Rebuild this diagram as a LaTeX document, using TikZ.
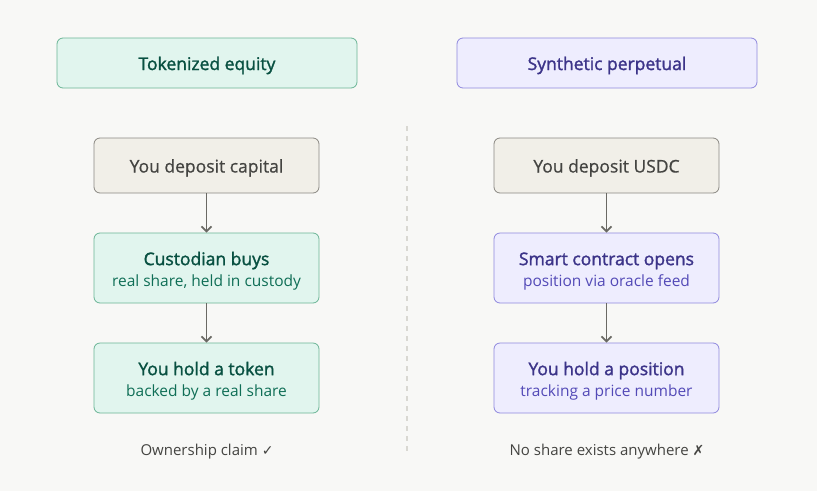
\documentclass[tikz,border=0pt]{standalone}
\usepackage{fontspec}
\setmainfont{Open Sans}
\newfontfamily\medfont{Open Sans}[FakeBold=1.6]
\newfontfamily\semifont{Open Sans}[FakeBold=0.7]
\newfontfamily\symfont{DejaVu Sans}
\usepackage{xcolor}
\usetikzlibrary{arrows.meta,positioning}

\definecolor{pagebg}{HTML}{F8F8F6}
\definecolor{mintfill}{HTML}{E1F5EE}
\definecolor{mintline}{HTML}{6AB596}
\definecolor{mintdark}{HTML}{085041}
\definecolor{mintsub}{HTML}{0F6E56}
\definecolor{lilacfill}{HTML}{EEEDFE}
\definecolor{lilacline}{HTML}{8F88DE}
\definecolor{lilacdark}{HTML}{3C3489}
\definecolor{lilacsub}{HTML}{534AB7}
\definecolor{sandfill}{HTML}{F1EFE8}
\definecolor{sandline}{HTML}{8A8882}
\definecolor{sanddark}{HTML}{444441}
\definecolor{arrowgray}{HTML}{6A6964}
\definecolor{splitgray}{HTML}{D9D8D2}

\tikzset{
  box/.style={rounded corners=6pt,line width=0.8pt,minimum width=225pt,align=center,inner sep=0pt},
  headbox/.style={box,minimum width=300pt,minimum height=50pt,text height=14pt,text depth=0pt,font=\medfont\fontsize{17.5}{20}\selectfont},
  startbox/.style={box,fill=sandfill,draw=sandline,text=sanddark,minimum height=55pt,text height=14pt,text depth=0pt,font=\semifont\fontsize{17.5}{20}\selectfont},
  greenbox/.style={box,fill=mintfill,draw=mintline,text=mintdark,minimum height=70pt,font=\fontsize{15.5}{21}\selectfont},
  purplebox/.style={box,fill=lilacfill,draw=lilacline,text=lilacdark,minimum height=70pt,font=\fontsize{15.5}{21}\selectfont},
  flow/.style={-{Straight Barb[length=5pt,width=10pt]},line width=1.7pt,draw=arrowgray},
  verdict/.style={text=sanddark,font=\fontsize{15}{17}\selectfont}
}
\newcommand{\boxtext}[3]{{\medfont\fontsize{17.5}{21}\selectfont\rule{0pt}{19pt}#2}\\{\color{#1}#3}}

\begin{document}
\begin{tikzpicture}[x=1pt,y=-1pt]
\fill[pagebg] (0,0) rectangle (817,491);
\useasboundingbox (0,0) rectangle (817,491);

% divider
\draw[splitgray,line width=1.5pt,dash pattern=on 5pt off 5pt] (407,126) -- (407,452);

% left column: tokenized equity
\node[headbox,fill=mintfill,draw=mintline,text=mintdark] (teq) at (207,63) {Tokenized equity};
\node[startbox] (tdep) at (206.5,165.5) {You deposit capital};
\node[greenbox] (tbuy) at (206.5,268) {\boxtext{mintsub}{Custodian buys}{real share, held in custody}};
\node[greenbox] (thold) at (206.5,378) {\boxtext{mintsub}{You hold a token}{backed by a real share}};
\node[verdict] (tres) at (207,452) {Ownership claim {\symfont\fontsize{14}{16}\selectfont ✓}};
\draw[flow] (tdep) -- (tbuy);
\draw[flow] (tbuy) -- (thold);

% right column: synthetic perpetual
\node[headbox,fill=lilacfill,draw=lilacline,text=lilacdark] (sper) at (607,63) {Synthetic perpetual};
\node[startbox] (sdep) at (606.5,165.5) {You deposit USDC};
\node[purplebox] (sopen) at (606.5,268) {\boxtext{lilacsub}{Smart contract opens}{position via oracle feed}};
\node[purplebox] (shold) at (606.5,378) {\boxtext{lilacsub}{You hold a position}{tracking a price number}};
\node[verdict] (sres) at (607,452) {No share exists anywhere {\symfont\fontsize{14}{16}\selectfont ✗}};
\draw[flow] (sdep) -- (sopen);
\draw[flow] (sopen) -- (shold);
\end{tikzpicture}
\end{document}
